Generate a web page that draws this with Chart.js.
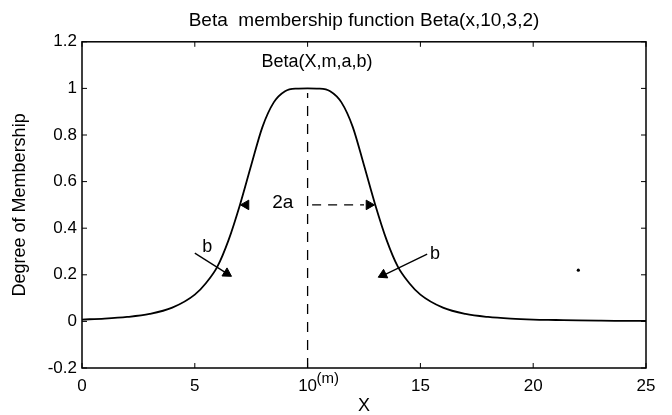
<!DOCTYPE html>
<html>
<head>
<meta charset="utf-8">
<script src="https://cdn.jsdelivr.net/npm/chart.js@4/dist/chart.umd.min.js"></script>
<style>
  html, body { margin: 0; padding: 0; background: #fff; }
  #wrap { width: 672px; height: 415px; position: relative; }
</style>
</head>
<body>
<div id="wrap"><canvas id="beta"></canvas></div>
<script>
// ── Membership curve Beta(x,10,3,2) ─────────────────────
const xValues    = [0, 1, 2, 3, 4, 5, 5.5, 6, 6.5, 7, 7.5, 8, 8.5, 9, 9.5, 10, 10.5, 11, 11.5, 12, 12.5, 13, 13.5, 14, 14.5, 15, 16, 17, 18, 19, 20, 21, 22, 23, 24, 25];
const membership = [0.008, 0.012, 0.019, 0.032, 0.059, 0.115, 0.165, 0.235, 0.35, 0.5, 0.67, 0.835, 0.94, 0.988, 0.999, 1, 0.999, 0.988, 0.94, 0.835, 0.67, 0.5, 0.35, 0.235, 0.165, 0.115, 0.059, 0.032, 0.019, 0.012, 0.008, 0.006, 0.004, 0.003, 0.0025, 0.002];

// ── Axis ticks ───────────────────────────────────────────
const xTicks      = [0, 5, 10, 15, 20, 25];
const xTickLabels = ['0', '5', '10', '15', '20', '25'];
const yTicks      = [-0.2, 0, 0.2, 0.4, 0.6, 0.8, 1, 1.2];
const yTickLabels = ['-0.2', '0', '0.2', '0.4', '0.6', '0.8', '1', '1.2'];

// ── Construction marks: centre m, width 2a, slope b ──────
const centerX  = [10, 10];
const centerY  = [-0.2, 0.98];
const widthX   = [10.2, 12.5];
const widthY   = [0.5, 0.5];
const bLeftX   = [5.0, 6.4];
const bLeftY   = [0.293, 0.207];
const bRightX  = [15.3, 13.4];
const bRightY  = [0.289, 0.2];
const headX    = [7.27, 12.72, 6.42, 13.35];
const headY    = [0.5, 0.5, 0.206, 0.2];
const headRot  = [270, 90, 122, 244];
const dotX     = [22];
const dotY     = [0.22];

const noteText = ['Beta(X,m,a,b)', '2a', 'b', 'b'];
const noteX    = [10.42, 8.9, 5.55, 15.65];
const noteY    = [1.115, 0.508, 0.318, 0.288];

const FONT = '"Liberation Sans", Arial, Helvetica, sans-serif';
const pts  = (xs, ys) => xs.map((x, i) => ({ x, y: ys[i] }));

// frame box with inward ticks on all four sides
const frameTicks = {
  id: 'frameTicks',
  afterDatasetsDraw(chart) {
    const { ctx, chartArea: a, scales: { x, y } } = chart;
    const len = 5;
    ctx.save();
    ctx.strokeStyle = '#000';
    ctx.lineWidth = 1.5;
    ctx.strokeRect(a.left, a.top, a.right - a.left, a.bottom - a.top);
    ctx.lineWidth = 1;
    ctx.beginPath();
    xTicks.forEach(v => {
      const px = x.getPixelForValue(v);
      ctx.moveTo(px, a.bottom); ctx.lineTo(px, a.bottom - len);
      ctx.moveTo(px, a.top);    ctx.lineTo(px, a.top + len);
    });
    yTicks.forEach(v => {
      const py = y.getPixelForValue(v);
      ctx.moveTo(a.left, py);  ctx.lineTo(a.left + len, py);
      ctx.moveTo(a.right, py); ctx.lineTo(a.right - len, py);
    });
    ctx.stroke();
    ctx.restore();
  }
};

// text notes inside the plot plus the "(m)" beside the 10 tick
const noteSizes = [18, 19, 18, 18];
const notes = {
  id: 'notes',
  afterDatasetsDraw(chart) {
    const { ctx, chartArea: a, scales: { x, y } } = chart;
    ctx.save();
    ctx.fillStyle = '#000';
    ctx.textAlign = 'center';
    ctx.textBaseline = 'middle';
    noteText.forEach((t, i) => {
      ctx.font = noteSizes[i] + 'px ' + FONT;
      ctx.fillText(t, x.getPixelForValue(noteX[i]), y.getPixelForValue(noteY[i]));
    });
    ctx.font = '15px ' + FONT;
    ctx.textAlign = 'left';
    ctx.fillText('(m)', x.getPixelForValue(10) + 9, a.bottom + 11);
    ctx.restore();
  }
};

new Chart(document.getElementById('beta'), {
  type: 'line',
  data: {
    datasets: [
      {
        data: pts(xValues, membership),
        borderColor: '#000', borderWidth: 1.8,
        pointRadius: 0, cubicInterpolationMode: 'monotone'
      },
      {
        data: pts(centerX, centerY),
        borderColor: '#000', borderWidth: 1.3, borderDash: [10, 8],
        pointRadius: 0
      },
      {
        data: pts(widthX, widthY),
        borderColor: '#000', borderWidth: 1.3, borderDash: [9, 7],
        pointRadius: 0
      },
      {
        data: pts(bLeftX, bLeftY),
        borderColor: '#000', borderWidth: 1.3, pointRadius: 0
      },
      {
        data: pts(bRightX, bRightY),
        borderColor: '#000', borderWidth: 1.3, pointRadius: 0
      },
      {
        data: pts(headX, headY),
        showLine: false,
        pointStyle: 'triangle', pointRadius: 5.5, pointRotation: headRot,
        pointBackgroundColor: '#000', pointBorderColor: '#000', pointBorderWidth: 1
      },
      {
        data: pts(dotX, dotY),
        showLine: false, pointRadius: 1.6,
        pointBackgroundColor: '#000', pointBorderColor: '#000', pointBorderWidth: 0
      }
    ]
  },
  options: {
    responsive: true,
    maintainAspectRatio: false,
    animation: false,
    events: [],
    layout: { padding: { left: 0, right: 26, top: 0, bottom: 0 } },
    plugins: {
      legend: { display: false },
      tooltip: { enabled: false },
      title: {
        display: true,
        fullSize: false,
        text: 'Beta  membership function Beta(x,10,3,2)',
        color: '#000',
        font: { family: FONT, size: 19, weight: 'normal', lineHeight: 1.2 },
        padding: { top: 9, bottom: 10 }
      }
    },
    scales: {
      x: {
        type: 'linear',
        min: 0, max: 25,
        afterBuildTicks: s => { s.ticks = xTicks.map(v => ({ value: v })); },
        afterFit: s => { s.height = 47; },
        grid: { display: false, drawTicks: false },
        border: { display: false },
        ticks: {
          color: '#000', padding: 8, maxRotation: 0,
          font: { family: FONT, size: 17 },
          callback: v => xTickLabels[xTicks.indexOf(v)]
        },
        title: {
          display: true, text: 'X', color: '#000',
          font: { family: FONT, size: 18, lineHeight: 1 },
          padding: { top: 0, bottom: 0 }
        }
      },
      y: {
        min: -0.2, max: 1.2,
        afterBuildTicks: s => { s.ticks = yTicks.map(v => ({ value: v })); },
        afterFit: s => { s.width = 82; },
        grid: { display: false, drawTicks: false },
        border: { display: false },
        ticks: {
          color: '#000', padding: 5,
          font: { family: FONT, size: 17 },
          callback: v => yTickLabels[yTicks.findIndex(t => Math.abs(t - v) < 1e-9)]
        },
        title: {
          display: true, text: 'Degree of Membership', color: '#000',
          font: { family: FONT, size: 18, lineHeight: 1.2 },
          padding: { top: 9, bottom: 0 }
        }
      }
    }
  },
  plugins: [frameTicks, notes]
});
</script>
</body>
</html>
